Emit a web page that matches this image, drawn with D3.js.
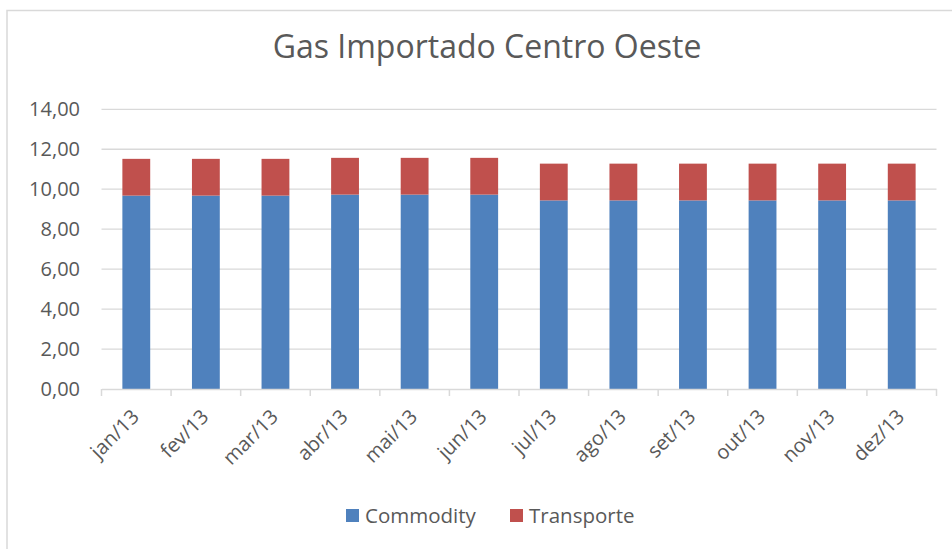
<!DOCTYPE html>
<html>
<head>
<meta charset="utf-8">
<script src="https://cdn.jsdelivr.net/npm/d3@7"></script>
<style>
  body { margin: 0; background: #fff; }
  text { font-family: "Open Sans", Lato, sans-serif; fill: #595959; }
</style>
</head>
<body>
<script>
// months and series values
var months = ["jan/13", "fev/13", "mar/13", "abr/13", "mai/13", "jun/13",
              "jul/13", "ago/13", "set/13", "out/13", "nov/13", "dez/13"];
var commodity = [9.68, 9.68, 9.68, 9.73, 9.73, 9.73, 9.44, 9.44, 9.44, 9.44, 9.44, 9.44];
var transporte = [1.84, 1.84, 1.84, 1.84, 1.84, 1.84, 1.84, 1.84, 1.84, 1.84, 1.84, 1.84];
var seriesNames = ["Commodity", "Transporte"];
var seriesColors = ["#4F81BD", "#C0504D"];
var yTicks = [0, 2, 4, 6, 8, 10, 12, 14];

var width = 952,
    height = 549;

var svg = d3.select("body")
    .append("svg")
    .attr("width", width)
    .attr("height", height);

// chart frame
svg.append("rect")
    .attr("x", 7)
    .attr("y", 10.5)
    .attr("width", 960)
    .attr("height", 560)
    .attr("fill", "none")
    .attr("stroke", "#d9d9d9")
    .attr("stroke-width", 1.5);

var x = d3.scaleBand()
    .domain(months)
    .range([101.5, 936.5])
    .paddingInner(0.6)
    .paddingOuter(0.3);

var y = d3.scaleLinear()
    .domain([0, 14])
    .range([389, 109.3]);

//gridlines
svg.selectAll(".grid")
    .data(yTicks.filter(function(d){ return d > 0; }))
    .enter()
    .append("line")
    .attr("class", "grid")
    .attr("x1", 101.5)
    .attr("x2", 936.5)
    .attr("y1", function(d){ return y(d); })
    .attr("y2", function(d){ return y(d); })
    .attr("stroke", "#d9d9d9")
    .attr("stroke-width", 1.3);

// y tick labels
svg.selectAll(".ylab")
    .data(yTicks)
    .enter()
    .append("text")
    .attr("class", "ylab")
    .attr("x", 80)
    .attr("y", function(d){ return y(d); })
    .attr("dy", "0.35em")
    .attr("text-anchor", "end")
    .style("font-size", "20px")
    .text(function(d){ return d.toFixed(2).replace(".", ","); });

// stacked data
var table = months.map(function(m, i){
    return { month: m, Commodity: commodity[i], Transporte: transporte[i] };
});
var stacked = d3.stack().keys(seriesNames)(table);

svg.selectAll(".series")
    .data(stacked)
    .enter()
    .append("g")
    .attr("class", "series")
    .attr("fill", function(d, i){ return seriesColors[i]; })
    .selectAll("rect")
    .data(function(d){ return d; })
    .enter()
    .append("rect")
    .attr("x", function(d){ return x(d.data.month); })
    .attr("width", x.bandwidth())
    .attr("y", function(d){ return y(d[1]); })
    .attr("height", function(d){ return y(d[0]) - y(d[1]); });

// x axis line
var xAxis = d3.axisBottom(x).tickSize(0).tickFormat("");
svg.append("g")
    .attr("transform", "translate(0,389)")
    .call(xAxis)
    .select(".domain")
    .attr("stroke", "#d9d9d9")
    .attr("stroke-width", 1.5);

// tick marks between categories
svg.selectAll(".xtick")
    .data(months.concat(["end"]))
    .enter()
    .append("line")
    .attr("class", "xtick")
    .attr("x1", function(d, i){ return 101.5 + i * x.step(); })
    .attr("x2", function(d, i){ return 101.5 + i * x.step(); })
    .attr("y1", 389)
    .attr("y2", 396)
    .attr("stroke", "#d9d9d9")
    .attr("stroke-width", 1.5);

// rotated month labels
svg.selectAll(".xlab")
    .data(months)
    .enter()
    .append("text")
    .attr("class", "xlab")
    .attr("text-anchor", "end")
    .style("font-size", "20px")
    .attr("transform", function(d){
        return "translate(" + (x(d) + x.bandwidth() / 2 + 4) + ",418) rotate(-45)";
    })
    .text(function(d){ return d; });

// title
svg.append("text")
    .attr("x", 487)
    .attr("y", 58)
    .attr("text-anchor", "middle")
    .style("font-size", "32px")
    .text("Gas Importado Centro Oeste");

// legend
var legend = svg.selectAll(".legend")
    .data(seriesNames)
    .enter()
    .append("g")
    .attr("class", "legend")
    .attr("transform", function(d, i){ return "translate(" + (i === 0 ? 346 : 510) + ",509)"; });

legend.append("rect")
    .attr("width", 13)
    .attr("height", 13)
    .attr("fill", function(d, i){ return seriesColors[i]; });

legend.append("text")
    .attr("x", 19)
    .attr("y", 6.5)
    .attr("dy", "0.35em")
    .style("font-size", "20.5px")
    .text(function(d){ return d; });
</script>
</body>
</html>
